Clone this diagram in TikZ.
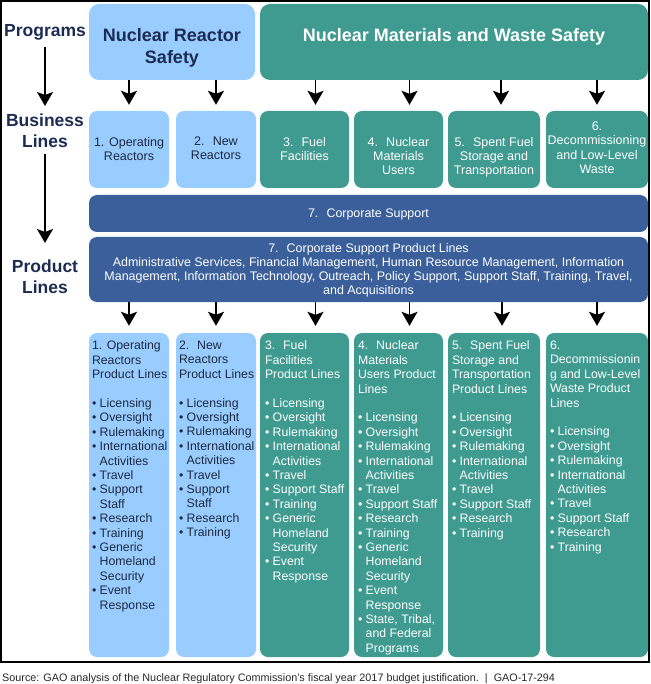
\documentclass[tikz,border=0pt]{standalone}
\usepackage{fontspec}
\setmainfont{Liberation Sans}
\usetikzlibrary{arrows.meta}

\definecolor{lblue}{HTML}{99CCFF}
\definecolor{nrcteal}{HTML}{3F9A90}
\definecolor{nrcblue}{HTML}{3A5F9B}
\definecolor{navy}{HTML}{1C2B52}
\definecolor{ink}{HTML}{1E2A40}

\tikzset{
  box/.style={rectangle, rounded corners=8pt, draw=none, inner sep=0pt},
  rbox/.style={box, fill=lblue},
  gbox/.style={box, fill=nrcteal},
  bbox/.style={box, fill=nrcblue},
  lab/.style={font=\fontsize{17.5}{21}\selectfont\bfseries, text=navy, align=center, inner sep=0pt, anchor=north},
  hdr/.style={font=\fontsize{18}{22.6}\selectfont\bfseries, align=center, inner sep=0pt, anchor=north},
  btxt/.style={font=\fontsize{12.5}{14.2}\selectfont, align=center, inner sep=0pt, anchor=north},
  ctxt/.style={font=\fontsize{12.45}{14.2}\selectfont, align=center, inner sep=0pt, anchor=north, text=white},
  ptxt/.style={font=\fontsize{12.3}{14.4}\selectfont, align=left, inner sep=0pt, anchor=north west},
  arr/.style={-{Stealth[length=14pt,width=16pt,inset=3pt]}, line width=1.6pt, black}
}

\newcommand{\bul}{•\ }
\newcommand{\ind}{\hphantom{•\ }}

\begin{document}
\begin{tikzpicture}[x=1pt,y=-1pt]
  \useasboundingbox (0,0) rectangle (650,684);
  \draw[line width=1.2pt] (1,1) rectangle (649,662);

  % programs
  \node[rbox, rounded corners=10pt, minimum width=166pt, minimum height=76pt] (nrs) at (172,42) {};
  \node[gbox, rounded corners=10pt, minimum width=388pt, minimum height=76pt] (nmws) at (454,42) {};
  \node[hdr, text=navy] (nrst) at ([yshift=-24pt]nrs.north) {Nuclear Reactor\\Safety};
  \node[hdr, text=white] (nmwst) at ([yshift=-24pt]nmws.north) {Nuclear Materials and Waste Safety};

  % business lines and product lines columns
  \foreach \n/\x/\w/\s in {1/129/80/rbox, 2/216/80/rbox, 3/304.5/89/gbox, 4/398.5/89/gbox, 5/494/92/gbox, 6/597/102/gbox} {
    \node[\s, minimum width=\w pt, minimum height=77pt] (bl\n) at (\x,149.5) {};
    \node[\s, minimum width=\w pt, minimum height=324pt] (pl\n) at (\x,495) {};
  }
  \node[btxt, text=ink] (bl1t) at ([yshift=-26pt]bl1.north) {1. Operating\\Reactors};
  \node[btxt, text=ink] (bl2t) at ([yshift=-26pt]bl2.north) {2.~ New\\Reactors};
  \node[btxt, text=white] (bl3t) at ([yshift=-26pt]bl3.north) {3.~ Fuel\\Facilities};
  \node[btxt, text=white] (bl4t) at ([yshift=-26pt]bl4.north) {4.~ Nuclear\\Materials\\Users};
  \node[btxt, text=white] (bl5t) at ([yshift=-26pt]bl5.north) {5.~ Spent Fuel\\Storage and\\Transportation};
  \node[btxt, text=white] (bl6t) at ([yshift=-11pt]bl6.north) {6.\\Decommissioning\\and Low-Level\\Waste};

  % corporate support
  \node[bbox, minimum width=559pt, minimum height=37pt] (cs) at (368.5,213.5) {};
  \node[ctxt] (cst) at ([yshift=-14pt]cs.north) {7.~ Corporate Support};
  \node[bbox, minimum width=559pt, minimum height=65pt] (cpl) at (368.5,269.5) {};
  \node[ctxt] (cplt) at ([yshift=-6pt]cpl.north) {7.~ Corporate Support Product Lines\\
    Administrative Services, Financial Management, Human Resource Management, Information\\
    Management, Information Technology, Outreach, Policy Support, Support Staff, Training, Travel,\\
    and Acquisitions};

  % product lines texts
  \node[ptxt, text=ink] (pl1t) at ([xshift=3pt,yshift=-8pt]pl1.north west) {1. Operating\\Reactors\\Product Lines\\[14.4pt]
    \bul Licensing\\\bul Oversight\\\bul Rulemaking\\\bul International\\\ind Activities\\\bul Travel\\
    \bul Support\\\ind Staff\\\bul Research\\\bul Training\\\bul Generic\\\ind Homeland\\\ind Security\\
    \bul Event\\\ind Response};
  \node[ptxt, text=ink] (pl2t) at ([xshift=3pt,yshift=-8pt]pl2.north west) {2.~ New\\Reactors\\Product Lines\\[14.4pt]
    \bul Licensing\\\bul Oversight\\\bul Rulemaking\\\bul International\\\ind Activities\\\bul Travel\\
    \bul Support\\\ind Staff\\\bul Research\\\bul Training};
  \node[ptxt, text=white] (pl3t) at ([xshift=5pt,yshift=-8pt]pl3.north west) {3.~ Fuel\\Facilities\\Product Lines\\[14.4pt]
    \bul Licensing\\\bul Oversight\\\bul Rulemaking\\\bul International\\\ind Activities\\\bul Travel\\
    \bul Support Staff\\\bul Training\\\bul Generic\\\ind Homeland\\\ind Security\\\bul Event\\\ind Response};
  \node[ptxt, text=white] (pl4t) at ([xshift=4pt,yshift=-8pt]pl4.north west) {4.~ Nuclear\\Materials\\Users Product\\Lines\\[14.4pt]
    \bul Licensing\\\bul Oversight\\\bul Rulemaking\\\bul International\\\ind Activities\\\bul Travel\\
    \bul Support Staff\\\bul Research\\\bul Training\\\bul Generic\\\ind Homeland\\\ind Security\\
    \bul Event\\\ind Response\\\bul State, Tribal,\\\ind and Federal\\\ind Programs};
  \node[ptxt, text=white] (pl5t) at ([xshift=4pt,yshift=-8pt]pl5.north west) {5.~ Spent Fuel\\Storage and\\Transportation\\Product Lines\\[14.4pt]
    \bul Licensing\\\bul Oversight\\\bul Rulemaking\\\bul International\\\ind Activities\\\bul Travel\\
    \bul Support Staff\\\bul Research\\\bul Training};
  \node[ptxt, text=white] (pl6t) at ([xshift=4pt,yshift=-8pt]pl6.north west) {6.\\Decommissionin\\g and Low-Level\\Waste Product\\Lines\\[14.4pt]
    \bul Licensing\\\bul Oversight\\\bul Rulemaking\\\bul International\\\ind Activities\\\bul Travel\\
    \bul Support Staff\\\bul Research\\\bul Training};

  % arrows
  \foreach \p/\n/\s in {nrs/1/0, nrs/2/0, nmws/3/11, nmws/4/11, nmws/5/7, nmws/6/0} {
    \draw[arr, shorten >=6pt] ([xshift=\s pt]bl\n.north |- \p.south) -- ([xshift=\s pt]bl\n.north);
  }
  \foreach \n/\s in {1/0, 2/0, 3/11, 4/11, 5/8, 6/0} {
    \draw[arr, shorten >=7pt] ([xshift=\s pt]pl\n.north |- cpl.south) -- ([xshift=\s pt]pl\n.north);
  }

  % left labels
  \node[lab] (lprog) at (45,24) {Programs};
  \node[lab] (lbus) at (45,114) {Business\\Lines};
  \node[lab] (lprod) at (45,260) {Product\\Lines};
  \draw[arr, shorten <=7pt, shorten >=8pt] (lprog.south) -- (lbus.north);
  \draw[arr, shorten <=6pt, shorten >=17pt] (lbus.south) -- (lprod.north);

  % source
  \node[font=\fontsize{10.8}{13}\selectfont, anchor=base west, inner sep=0pt, text=black!85] (src) at (2,681)
    {Source: GAO analysis of the Nuclear Regulatory Commission's fiscal year 2017 budget justification.\ \ |\ \ GAO-17-294};
\end{tikzpicture}
\end{document}
